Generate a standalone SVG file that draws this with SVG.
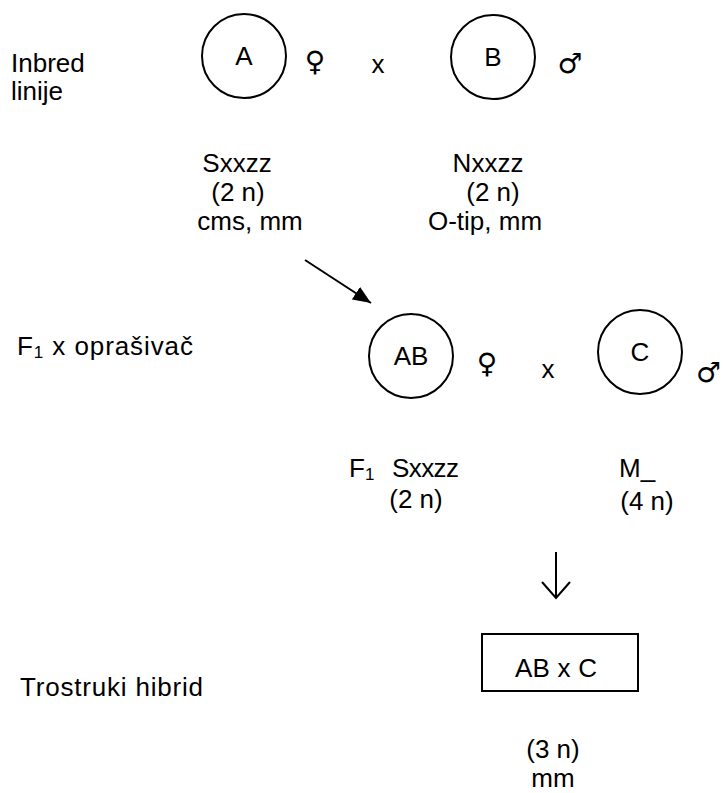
<svg xmlns="http://www.w3.org/2000/svg" width="723" height="793" viewBox="0 0 723 793">
<style>
text{font-family:"Liberation Sans",Arial,sans-serif;font-size:26px;fill:#000}
.c{text-anchor:middle}
.node{fill:none;stroke:#000;stroke-width:2}
.sym{font-family:"DejaVu Sans",sans-serif;font-size:28px}
.conn{stroke:#000;stroke-width:2;fill:none}
</style>
<defs>
<marker id="tri" viewBox="0 0 10 10" refX="10" refY="5" markerWidth="18" markerHeight="15" markerUnits="userSpaceOnUse" orient="auto" preserveAspectRatio="none">
<path d="M0,0 L10,5 L0,10 z" fill="#000"/>
</marker>
</defs>
<rect width="723" height="793" fill="#fff"/>
<g id="labels">
<text x="11" y="72">Inbred</text>
<text x="11" y="100">linije</text>
<text x="17" y="355" textLength="176">F<tspan font-size="17" dy="3">1</tspan><tspan dy="-3"> x oprašivač</tspan></text>
<text x="20" y="696" textLength="183">Trostruki hibrid</text>
</g>
<g id="nodeA">
<circle class="node" cx="244" cy="56" r="42"/>
<text class="c" x="244" y="65">A</text>
<text class="sym c" x="315" y="71">♀</text>
</g>
<text id="cross1" class="c" x="378" y="73">x</text>
<g id="nodeB">
<circle class="node" cx="493" cy="57" r="42"/>
<text class="c" x="493" y="66">B</text>
<text class="sym c" x="570" y="73">♂</text>
</g>
<g id="infoA">
<text class="c" x="237" y="172">Sxxzz</text>
<text class="c" x="238" y="201">(2 n)</text>
<text class="c" x="250" y="230">cms, mm</text>
</g>
<g id="infoB">
<text class="c" x="488" y="172">Nxxzz</text>
<text class="c" x="493" y="201">(2 n)</text>
<text class="c" x="485" y="230">O-tip, mm</text>
</g>
<g id="nodeAB">
<circle class="node" cx="411" cy="356" r="42"/>
<text class="c" x="411" y="365">AB</text>
<text class="sym c" x="487" y="373">♀</text>
</g>
<text id="cross2" class="c" x="548" y="378">x</text>
<g id="nodeC">
<circle class="node" cx="640" cy="352" r="42"/>
<text class="c" x="640" y="361">C</text>
<text class="sym" x="721" y="382" text-anchor="end">♂</text>
</g>
<g id="infoAB">
<text x="349" y="477">F<tspan font-size="17" dy="3">1</tspan></text>
<text x="392" y="477" textLength="67">Sxxzz</text>
<text class="c" x="416" y="508">(2 n)</text>
</g>
<g id="infoC">
<text x="619" y="477">M_</text>
<text class="c" x="647" y="510">(4 n)</text>
</g>
<g id="nodeABC">
<rect class="node" x="482" y="634" width="156" height="57"/>
<text x="515" y="677" textLength="82">AB x C</text>
</g>
<g id="infoABC">
<text class="c" x="553" y="758">(3 n)</text>
<text class="c" x="553" y="787">mm</text>
</g>
<g id="connectors">
<line class="conn" x1="305" y1="260" x2="371" y2="303" marker-end="url(#tri)"/>
<line class="conn" x1="556" y1="552" x2="556" y2="598"/>
<polyline class="conn" points="542,582 556,598 570,582"/>
</g>
</svg>
